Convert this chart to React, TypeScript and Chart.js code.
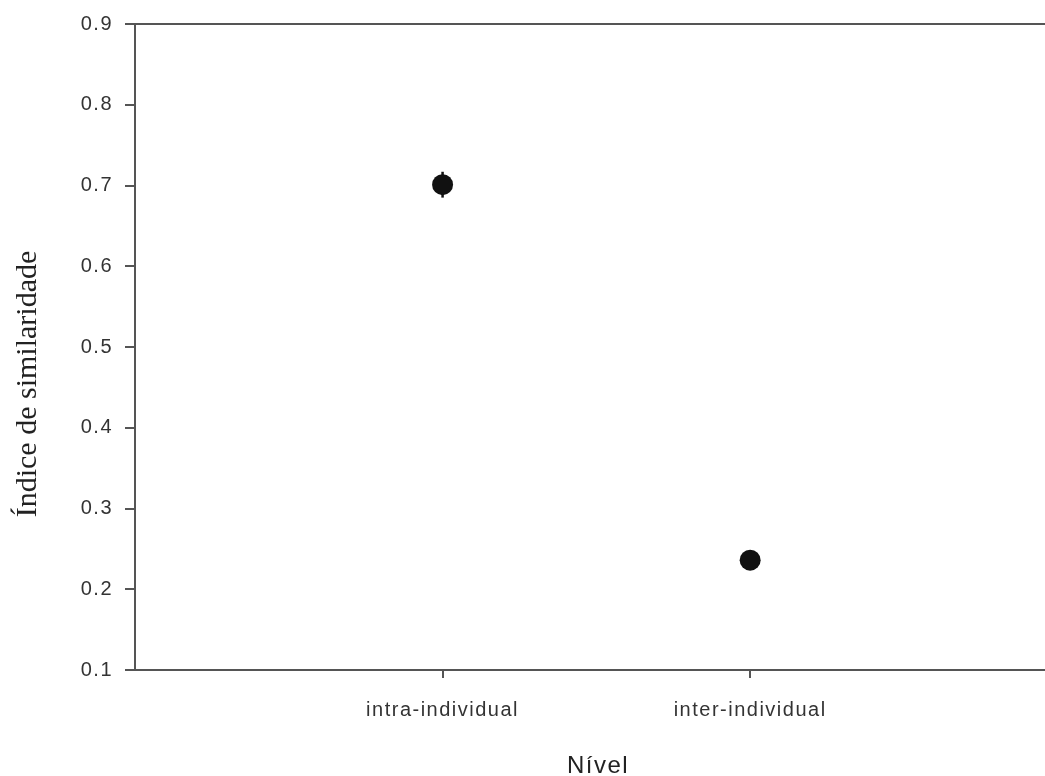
import React, { useEffect, useRef } from "react";
import { Chart, registerables } from "chart.js";

Chart.register(...registerables);

const categories = ["intra-individual", "inter-individual"];
const categoryPositions = [1, 2];
const means = [0.701, 0.236];
const errors = [0.016, 0.004];
const yMin = 0.1;
const yMax = 0.9;
const yStep = 0.1;
const xTitle = "Nível";
const yTitle = "Índice de similaridade";

export default function App() {
  const ref = useRef<HTMLCanvasElement>(null);

  useEffect(() => {
    document.body.style.margin = "0";
    const canvas = ref.current;
    if (!canvas) return;

    const spacingPlugin = {
      id: "spacing",
      beforeDraw(chart: any) {
        (chart.ctx as any).letterSpacing = "1.5px";
      },
    };

    const errorBars = {
      id: "errorBars",
      beforeDatasetsDraw(chart: any) {
        const { ctx, scales } = chart;
        ctx.save();
        ctx.strokeStyle = "#111";
        ctx.lineWidth = 2.5;
        means.forEach((m, i) => {
          const x = scales.x.getPixelForValue(categoryPositions[i]);
          const y1 = scales.y.getPixelForValue(m + errors[i]);
          const y2 = scales.y.getPixelForValue(m - errors[i]);
          ctx.beginPath();
          ctx.moveTo(x, y1);
          ctx.lineTo(x, y2);
          ctx.stroke();
        });
        ctx.restore();
      },
    };

    const frameAndTitles = {
      id: "frameAndTitles",
      afterDraw(chart: any) {
        const { ctx, chartArea } = chart;
        ctx.save();
        ctx.strokeStyle = "#555";
        ctx.lineWidth = 2;
        ctx.beginPath();
        ctx.moveTo(chartArea.left - 10, chartArea.top);
        ctx.lineTo(chartArea.right + 20, chartArea.top);
        ctx.stroke();
        (ctx as any).letterSpacing = "1.5px";
        ctx.fillStyle = "#222";
        ctx.font = '24px "Liberation Sans", Arial, sans-serif';
        ctx.textAlign = "center";
        ctx.textBaseline = "alphabetic";
        ctx.fillText(xTitle, 598, 773);
        (ctx as any).letterSpacing = "0px";
        ctx.font = '30px "Liberation Serif", "Times New Roman", serif';
        ctx.translate(36, 384);
        ctx.rotate(-Math.PI / 2);
        ctx.fillText(yTitle, 0, 0);
        ctx.restore();
      },
    };

    const chart = new Chart(canvas, {
      type: "scatter",
      data: {
        datasets: [
          {
            data: means.map((m, i) => ({ x: categoryPositions[i], y: m })),
            backgroundColor: "#111",
            borderColor: "#111",
            pointRadius: 10.5,
            pointHoverRadius: 10.5,
            borderWidth: 0,
          },
        ],
      },
      options: {
        responsive: false,
        animation: false,
        devicePixelRatio: 1,
        layout: { padding: { top: 24, right: 0, left: 0, bottom: 0 } },
        plugins: { legend: { display: false }, tooltip: { enabled: false } },
        scales: {
          x: {
            type: "linear",
            min: 0,
            max: 2.97,
            afterBuildTicks(scale: any) {
              scale.ticks = categoryPositions.map((v) => ({ value: v }));
            },
            afterFit(scale: any) {
              scale.height = 106;
            },
            ticks: {
              autoSkip: false,
              maxRotation: 0,
              minRotation: 0,
              padding: 20,
              color: "#333",
              font: { family: '"Liberation Sans", Arial, sans-serif', size: 20 },
              callback: (v: any) => {
                const idx = categoryPositions.indexOf(Number(v));
                return idx >= 0 ? categories[idx] : "";
              },
            },
            grid: {
              drawOnChartArea: false,
              drawTicks: true,
              tickLength: 8,
              tickColor: "#555",
              lineWidth: 2,
            },
            border: { display: true, color: "#555", width: 2 },
          },
          y: {
            type: "linear",
            min: yMin,
            max: yMax,
            afterFit(scale: any) {
              scale.width = 135;
            },
            ticks: {
              stepSize: yStep,
              padding: 12,
              color: "#333",
              font: { family: '"Liberation Sans", Arial, sans-serif', size: 20 },
              callback: (v: any) => Number(v).toFixed(1),
            },
            grid: {
              drawOnChartArea: false,
              drawTicks: true,
              tickLength: 10,
              tickColor: "#555",
              lineWidth: 2,
            },
            border: { display: true, color: "#555", width: 2 },
          },
        },
      },
      plugins: [spacingPlugin, errorBars, frameAndTitles],
    } as any);

    return () => chart.destroy();
  }, []);

  return (
    <div style={{ width: 1045, height: 776, overflow: "hidden", background: "#fff" }}>
      <canvas ref={ref} width={1059} height={776} style={{ display: "block" }} />
    </div>
  );
}
